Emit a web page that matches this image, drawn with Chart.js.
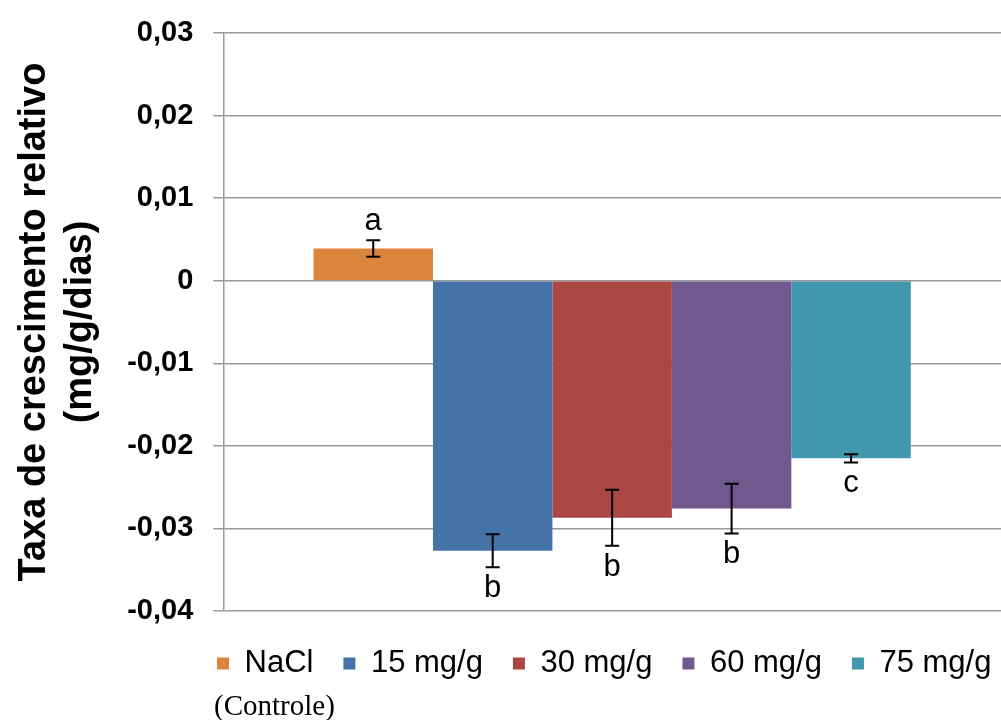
<!DOCTYPE html>
<html lang="pt">
<head>
<meta charset="UTF-8">
<title>Taxa de crescimento relativo</title>
<script src="https://cdn.jsdelivr.net/npm/chart.js"></script>
<style>
  body { margin: 0; background: #fff; }
  #wrap { width: 1001px; height: 720px; }
</style>
</head>
<body>
<div id="wrap"><canvas id="myChart"></canvas></div>
<script>
// data
const series = ['NaCl', '15 mg/g', '30 mg/g', '60 mg/g', '75 mg/g'];
const values = [0.0039, -0.0327, -0.0287, -0.0276, -0.0215];
const errors = [0.0010, 0.0020, 0.0034, 0.0030, 0.0005];
const letters = ['a', 'b', 'b', 'b', 'c'];
const colors = ['#DB843D', '#4572A7', '#AA4643', '#71588F', '#4198AF'];
const yTitle = ['Taxa de crescimento relativo', '(mg/g/dias)'];
const note = '(Controle)';

const sans = 'Liberation Sans, Arial, sans-serif';
const legendPad = 30;

// error bars + letters, legend nudge, "(Controle)" note
const errorPlugin = {
  id: 'errorPlugin',
  afterLayout(chart) {
    // start the legend row under the plot, first box at x=217
    const lg = chart.legend;
    lg.right = 1200;
    lg.left = 2 * 217 - legendPad - lg.right + lg.lineWidths[0];
    lg.top += 7;
    lg.bottom += 7;
  },
  afterDatasetsDraw(chart) {
    const ctx = chart.ctx;
    const y = chart.scales.y;
    ctx.save();
    ctx.strokeStyle = '#000';
    ctx.lineWidth = 2;
    ctx.fillStyle = '#000';
    ctx.font = '31px ' + sans;
    ctx.textAlign = 'center';
    ctx.textBaseline = 'alphabetic';
    values.forEach((v, i) => {
      const bar = chart.getDatasetMeta(i).data[0];
      const x = bar.x;
      const yHi = y.getPixelForValue(v + errors[i]);
      const yLo = y.getPixelForValue(v - errors[i]);
      ctx.beginPath();
      ctx.moveTo(x, yHi); ctx.lineTo(x, yLo);
      ctx.moveTo(x - 7, yHi); ctx.lineTo(x + 7, yHi);
      ctx.moveTo(x - 7, yLo); ctx.lineTo(x + 7, yLo);
      ctx.stroke();
      if (v >= 0) ctx.fillText(letters[i], x, yHi - 10);
      else ctx.fillText(letters[i], x, yLo + 30);
    });
    ctx.restore();
  },
  afterDraw(chart) {
    const box = chart.legend.legendHitBoxes[0];
    const ctx = chart.ctx;
    ctx.save();
    ctx.fillStyle = '#000';
    ctx.font = '29px Liberation Serif, Times New Roman, serif';
    ctx.textAlign = 'left';
    ctx.textBaseline = 'middle';
    ctx.fillText(note, box.left - 3, 707);
    ctx.restore();
  }
};

const datasets = series.map((name, i) => ({
  label: name,
  data: [values[i]],
  backgroundColor: colors[i],
  borderWidth: 0
}));

const myChart = new Chart(document.getElementById('myChart'), {
  type: 'bar',
  data: { labels: [''], datasets },
  plugins: [errorPlugin],
  options: {
    responsive: true,
    maintainAspectRatio: false,
    animation: false,
    layout: { padding: { top: 6, left: 8, right: 0, bottom: 38 } },
    categoryPercentage: 0.768,
    barPercentage: 1.0,
    plugins: {
      tooltip: { enabled: false },
      legend: {
        position: 'bottom',
        labels: {
          boxWidth: 12,
          boxHeight: 12,
          padding: legendPad,
          color: '#000',
          font: { family: sans, size: 31 }
        }
      }
    },
    scales: {
      x: { display: false },
      y: {
        min: -0.04,
        max: 0.03,
        ticks: {
          stepSize: 0.01,
          padding: 20,
          color: '#000',
          font: { family: sans, size: 29, weight: 'bold', lineHeight: 0.9 },
          callback: v => Math.abs(v) < 1e-9 ? '0' : v.toFixed(2).replace('.', ',')
        },
        grid: { color: '#9a9a9a', lineWidth: 1.5, tickLength: 10 },
        border: { color: '#9a9a9a', width: 1.5 },
        title: {
          display: true,
          text: yTitle,
          color: '#000',
          font: { family: sans, size: 38, weight: 'bold', lineHeight: 1.2 },
          padding: { top: 4, bottom: 4 }
        }
      }
    }
  }
});
</script>
</body>
</html>
